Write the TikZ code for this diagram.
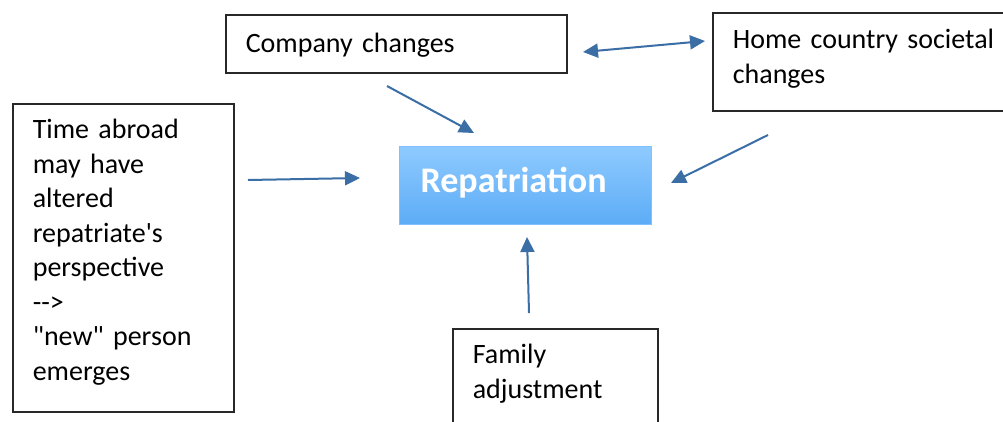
\documentclass[tikz,border=0pt]{standalone}
\usepackage{fontspec}
\setmainfont{Carlito}[Ligatures=TeXOff]
\usetikzlibrary{positioning}
\usetikzlibrary{arrows.meta}

\definecolor{arrowblue}{RGB}{58,110,165}
\definecolor{boxgray}{RGB}{40,40,40}
\definecolor{reptop}{RGB}{142,202,255}
\definecolor{repbottom}{RGB}{92,172,246}
\definecolor{repline}{RGB}{128,192,255}

\begin{document}
\begin{tikzpicture}[x=1pt,y=-1pt,
                arr/.style={-{Triangle[length=15pt,width=14pt]},draw=arrowblue,fill=arrowblue,line width=2pt},
                dblarr/.style={{Triangle[length=15pt,width=14pt]}-{Triangle[length=15pt,width=14pt]},draw=arrowblue,fill=arrowblue,line width=2pt},
                box/.style={draw=boxgray,line width=1.6pt,fill=white,align=left,anchor=north west,
                            inner xsep=20pt,inner ysep=0pt,font=\fontsize{28}{34.5}\selectfont}]

  \clip (0,0) rectangle (1003,421);
  \fill[white] (0,0) rectangle (1003,421);

  \node[box,text width=301pt,text height=38pt,text depth=20pt] (company) at (225,14) {Company changes};
  \node[box,text width=263pt,text height=36pt,text depth=62pt] (home) at (712,12) {Home country societal\\changes};
  \node[box,text width=181pt,text height=35pt,text depth=273pt] (time) at (12,103)
       {Time abroad\\may have\\altered\\repatriate's\\perspective\\-{}->\\"new" person\\emerges};
  \node[box,text width=165pt,text height=35pt,text depth=77pt] (family) at (452,328) {Family\\adjustment};
  \node[box,draw=repline,line width=1.2pt,top color=reptop,bottom color=repbottom,text=white,
        font=\fontsize{36}{40}\selectfont\bfseries,inner xsep=21pt,
        text width=210pt,text height=46pt,text depth=32pt] (repat) at (399,146) {Repatriation};

  % arrow ends
  \coordinate (timeout) at (248,180);
  \coordinate (repleft) at (360,178);
  \coordinate (compout) at (387,86);
  \coordinate (reptop) at (474,133);
  \coordinate (compright) at (583,52);
  \coordinate (homeleft) at (705,41);
  \coordinate (homeout) at (768,135);
  \coordinate (repright) at (671,183);
  \coordinate (famout) at (529,313);
  \coordinate (repbot) at (527,237);

  \draw[arr] (timeout) -- (repleft);
  \draw[arr] (compout) -- (reptop);
  \draw[dblarr] (compright) -- (homeleft);
  \draw[arr] (homeout) -- (repright);
  \draw[arr] (famout) -- (repbot);
\end{tikzpicture}
\end{document}
